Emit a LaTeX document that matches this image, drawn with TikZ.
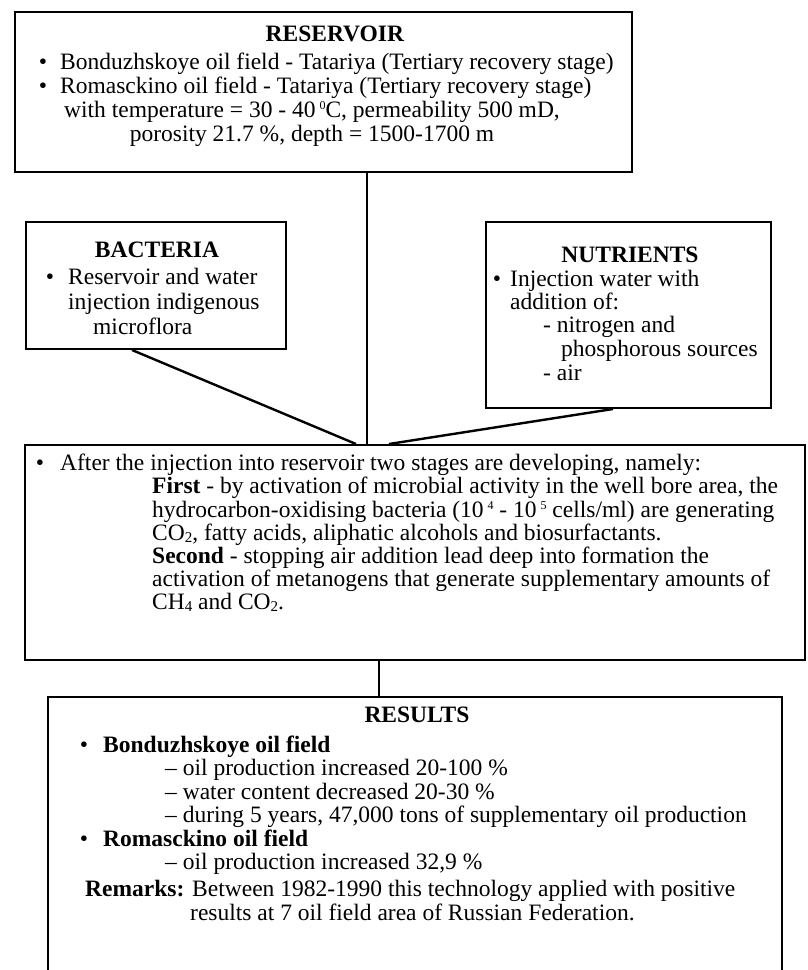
\documentclass[tikz,border=0pt]{standalone}
\usepackage{fontspec}
\setmainfont{Liberation Serif}
\usetikzlibrary{calc}
\newcommand\mysup[1]{\raisebox{8pt}{\fontsize{12}{12}\selectfont #1}}
\newcommand\mysub[1]{\raisebox{-2.5pt}{\fontsize{15}{15}\selectfont #1}}
\tikzset{
  box/.style={draw, line width=2pt, inner sep=0pt},
  txt/.style={inner sep=0pt, anchor=base west, font=\fontsize{23.5}{24}\selectfont},
  ctxt/.style={txt, anchor=base},
  conn/.style={line width=2.4pt},
}
\begin{document}
\begin{tikzpicture}[x=1pt,y=-1pt]
\useasboundingbox (0,0) rectangle (808,970);
% boxes
\node[box, minimum width=617pt, minimum height=160pt] (res) at (323.5,92) {};
\node[box, minimum width=260pt, minimum height=127pt] (bact) at (156,285.5) {};
\node[box, minimum width=285pt, minimum height=186pt] (nutr) at (628.5,315) {};
\node[box, minimum width=780pt, minimum height=215pt] (mid) at (415,552.5) {};
\node[box, minimum width=734pt, minimum height=300pt] (resl) at (415,847) {};
% connectors
\coordinate (rv) at ($(res.south west)+(353,0)$);
\draw[conn] (rv) -- (rv |- mid.north);
\draw[conn] ($(bact.south west)+(107,0)$) -- ($(mid.north west)+(332,0)$);
\draw[conn] ($(nutr.south west)+(128,0)$) -- ($(mid.north west)+(365,0)$);
\draw[conn] ($(mid.south west)+(355,0)$) -- ($(resl.north west)+(332,0)$);
% reservoir
\node[ctxt] (resT) at (335,41) {\textbf{RESERVOIR}};
\node[ctxt] (resB1) at (43,69) {\textbullet};
\node[txt] (res1) at (60,69) {Bonduzhskoye oil field - Tatariya (Tertiary recovery stage)};
\node[ctxt] (resB2) at (43,93) {\textbullet};
\node[txt] (res2) at (60,93) {Romasckino oil field - Tatariya (Tertiary recovery stage)};
\node[ctxt] (res3) at (312,117) {with temperature = 30 - 40\,\mysup{0}C, permeability 500 mD,};
\node[ctxt] (res4) at (312,141) {porosity 21.7 \%, depth = 1500-1700 m};
% bacteria
\node[ctxt] (bT) at (157,257) {\textbf{BACTERIA}};
\node[ctxt] (bB) at (50,284) {\textbullet};
\node[txt] (b1) at (68,284) {Reservoir and water};
\node[txt] (b2) at (68,309) {injection indigenous};
\node[txt] (b3) at (93,334) {microflora};
% nutrients
\node[ctxt] (nT) at (630,262) {\textbf{NUTRIENTS}};
\node[ctxt] (nB) at (497,286) {\textbullet};
\node[txt] (n1) at (510,286) {Injection water with};
\node[txt] (n2) at (510,309) {addition of:};
\node[txt] (n3) at (543,332) {- nitrogen and};
\node[txt] (n4) at (561,356) {phosphorous sources};
\node[txt] (n5) at (543,380) {- air};
% middle
\node[ctxt] (mB) at (40,470) {\textbullet};
\node[txt] (m1) at (60,470) {After the injection into reservoir two stages are developing, namely:};
\node[txt] (m2) at (152,493) {\textbf{First} - by activation of microbial activity in the well bore area, the};
\node[txt] (m3) at (152,517) {hydrocarbon-oxidising bacteria (10\,\mysup{4} - 10\,\mysup{5} cells/ml) are generating};
\node[txt] (m4) at (152,540) {CO\mysub{2}, fatty acids, aliphatic alcohols and biosurfactants.};
\node[txt] (m5) at (152,563) {\textbf{Second} - stopping air addition lead deep into formation the};
\node[txt] (m6) at (152,586) {activation of metanogens that generate supplementary amounts of};
\node[txt] (m7) at (152,609) {CH\mysub{4} and CO\mysub{2}.};
% results
\node[ctxt] (rT) at (417,722) {\textbf{RESULTS}};
\node[ctxt] (rB1) at (84,752) {\textbullet};
\node[txt] (r1) at (103,752) {\textbf{Bonduzhskoye oil field}};
\node[txt] (r2) at (165,775) {\textendash{} oil production increased 20-100 \%};
\node[txt] (r3) at (165,799) {\textendash{} water content decreased 20-30 \%};
\node[txt] (r4) at (165,822) {\textendash{} during 5 years, 47,000 tons of supplementary oil production};
\node[ctxt] (rB2) at (84,846) {\textbullet};
\node[txt] (r5) at (103,846) {\textbf{Romasckino oil field}};
\node[txt] (r6) at (165,869) {\textendash{} oil production increased 32,9 \%};
\node[txt] (r7) at (85,896) {\textbf{Remarks:} Between 1982-1990 this technology applied with positive};
\node[txt] (r8) at (190,920) {results at 7 oil field area of Russian Federation.};
\end{tikzpicture}
\end{document}
